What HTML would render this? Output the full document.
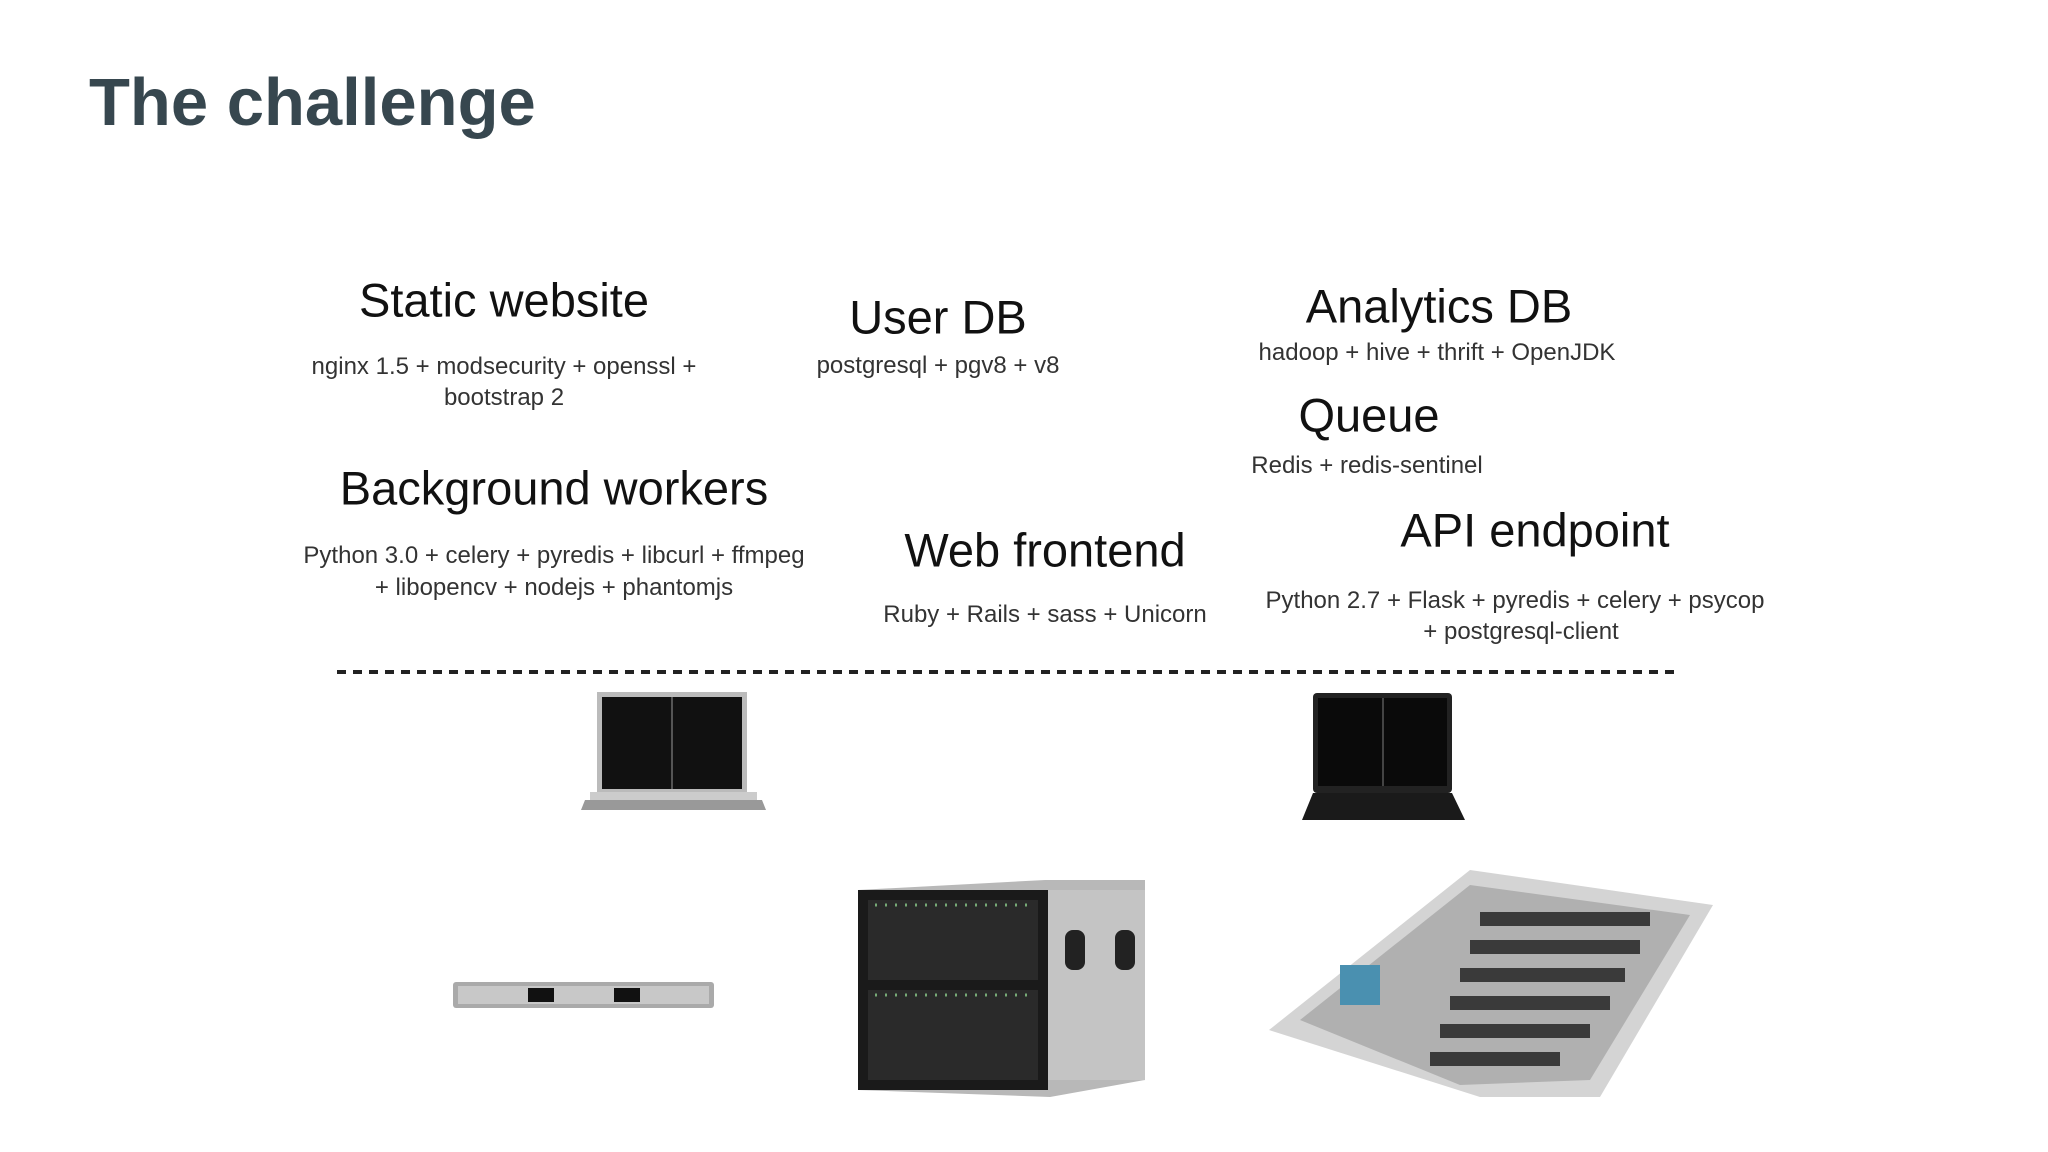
<!DOCTYPE html>
<html><head><meta charset="utf-8"><style>
body{margin:0;width:2048px;height:1152px;background:#fff;position:relative;overflow:hidden;font-family:"Liberation Sans",sans-serif}
.t{position:absolute;transform:translate(-50%,-50%);white-space:nowrap;color:#111}
.h{font-size:47px}
.s{font-size:24px;color:#333}
.a{position:absolute}
</style></head><body>
<div class="a" style="left:89px;top:64px;font-size:67px;font-weight:bold;color:#37474f">The challenge</div>

<div class="t h" style="left:504px;top:300px">Static website</div>
<div class="t s" style="left:504px;top:367px">nginx 1.5 + modsecurity + openssl +</div>
<div class="t s" style="left:504px;top:398px">bootstrap 2</div>

<div class="t h" style="left:938px;top:317px">User DB</div>
<div class="t s" style="left:938px;top:366px">postgresql + pgv8 + v8</div>

<div class="t h" style="left:1439px;top:306px">Analytics DB</div>
<div class="t s" style="left:1437px;top:353px">hadoop + hive + thrift + OpenJDK</div>

<div class="t h" style="left:1369px;top:415px">Queue</div>
<div class="t s" style="left:1367px;top:466px">Redis + redis-sentinel</div>

<div class="t h" style="left:554px;top:488px">Background workers</div>
<div class="t s" style="left:554px;top:556px">Python 3.0 + celery + pyredis + libcurl + ffmpeg</div>
<div class="t s" style="left:554px;top:588px">+ libopencv + nodejs + phantomjs</div>

<div class="t h" style="left:1045px;top:550px">Web frontend</div>
<div class="t s" style="left:1045px;top:615px">Ruby + Rails + sass + Unicorn</div>

<div class="t h" style="left:1535px;top:530px">API endpoint</div>
<div class="t s" style="left:1515px;top:601px">Python 2.7 + Flask + pyredis + celery + psycop</div>
<div class="t s" style="left:1521px;top:632px">+ postgresql-client</div>

<svg class="a" style="left:0;top:0" width="2048" height="1152">
<line x1="337" y1="672" x2="1678" y2="672" stroke="#222" stroke-width="4" stroke-dasharray="9,7"/>
<!-- laptop 1 -->
<rect x="597" y="692" width="150" height="100" fill="#bbb"/>
<rect x="602" y="697" width="140" height="92" fill="#111"/>
<line x1="672" y1="697" x2="672" y2="789" stroke="#555" stroke-width="2"/>
<polygon points="585,800 762,800 766,810 581,810" fill="#999"/>
<rect x="590" y="792" width="167" height="8" fill="#ccc"/>
<!-- laptop 2 -->
<rect x="1313" y="693" width="139" height="100" fill="#222" rx="4"/>
<rect x="1318" y="698" width="129" height="88" fill="#0a0a0a"/>
<line x1="1383" y1="698" x2="1383" y2="786" stroke="#444" stroke-width="2"/>
<polygon points="1313,793 1452,793 1465,820 1302,820" fill="#1a1a1a"/>
<!-- 1U server -->
<rect x="453" y="982" width="261" height="26" fill="#aaa" rx="3"/>
<rect x="458" y="986" width="251" height="18" fill="#c8c8c8"/>
<rect x="528" y="988" width="26" height="14" fill="#111"/>
<rect x="614" y="988" width="26" height="14" fill="#111"/>
<!-- blade -->
<polygon points="858,890 1045,880 1145,880 1145,1080 1050,1097 858,1090" fill="#b8b8b8"/>
<rect x="858" y="890" width="190" height="200" fill="#1a1a1a"/>
<rect x="868" y="900" width="170" height="80" fill="#2a2a2a"/>
<rect x="868" y="990" width="170" height="90" fill="#2a2a2a"/>
<g stroke="#7a7" stroke-width="3" stroke-dasharray="2,8">
<line x1="875" y1="905" x2="1035" y2="905"/><line x1="875" y1="995" x2="1035" y2="995"/>
</g>
<rect x="1048" y="890" width="97" height="190" fill="#c4c4c4"/>
<rect x="1065" y="930" width="20" height="40" fill="#222" rx="8"/>
<rect x="1115" y="930" width="20" height="40" fill="#222" rx="8"/>
<!-- datacenter -->
<polygon points="1269,1030 1470,870 1713,905 1600,1097 1480,1097" fill="#d4d4d4"/>
<polygon points="1300,1020 1470,885 1690,915 1590,1080 1460,1085" fill="#b0b0b0"/>
<g fill="#3a3a3a">
<rect x="1480" y="912" width="170" height="14"/><rect x="1470" y="940" width="170" height="14"/>
<rect x="1460" y="968" width="165" height="14"/><rect x="1450" y="996" width="160" height="14"/>
<rect x="1440" y="1024" width="150" height="14"/><rect x="1430" y="1052" width="130" height="14"/>
</g>
<rect x="1340" y="965" width="40" height="40" fill="#4a90b0"/>
</svg>
</body></html>
